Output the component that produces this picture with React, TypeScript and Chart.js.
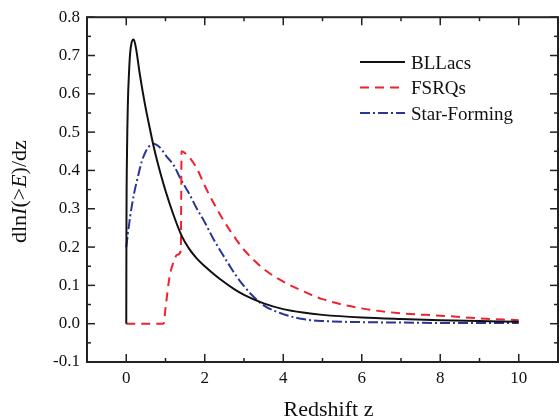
import { useEffect, useRef } from "react";
import { Chart, registerables } from "chart.js";

Chart.register(...registerables);

const FONT = "'Liberation Serif', 'Times New Roman', serif";

// Redshift grid and curves
const bllacsZ = [0, 0.005, 0.02, 0.04, 0.07, 0.1, 0.14, 0.19, 0.25, 0.34, 0.42, 0.5, 0.6, 0.7, 0.8, 0.9, 1.0, 1.2, 1.4, 1.6, 1.8, 2.0, 2.25, 2.5, 2.75, 3.0, 3.5, 4.0, 4.5, 5.0, 6.0, 7.0, 8.0, 9.0, 10.0];
const bllacsV = [0, 0.25, 0.45, 0.57, 0.655, 0.707, 0.735, 0.742, 0.718, 0.655, 0.605, 0.56, 0.51, 0.462, 0.42, 0.382, 0.347, 0.285, 0.232, 0.196, 0.17, 0.15, 0.128, 0.108, 0.09, 0.075, 0.053, 0.038, 0.029, 0.023, 0.016, 0.012, 0.009, 0.007, 0.005];

const fsrqZ = [0, 0.5, 0.95, 1.0, 1.1, 1.2, 1.3, 1.39, 1.41, 1.5, 1.6, 1.8, 2.0, 2.2, 2.4, 2.6, 2.8, 3.0, 3.5, 4.0, 4.5, 5.0, 6.0, 7.0, 8.0, 9.0, 10.0];
const fsrqV = [0, 0, 0, 0.04, 0.12, 0.16, 0.18, 0.19, 0.45, 0.445, 0.435, 0.405, 0.36, 0.32, 0.283, 0.25, 0.22, 0.193, 0.143, 0.11, 0.085, 0.064, 0.04, 0.027, 0.021, 0.014, 0.009];

const sfZ = [0, 0.1, 0.2, 0.3, 0.4, 0.5, 0.6, 0.7, 0.8, 0.9, 1.0, 1.2, 1.4, 1.6, 1.8, 2.0, 2.2, 2.4, 2.6, 2.8, 3.0, 3.2, 3.5, 4.0, 4.5, 5.0, 6.0, 7.0, 8.0, 9.0, 10.0];
const sfV = [0.2, 0.28, 0.34, 0.385, 0.425, 0.45, 0.465, 0.47, 0.465, 0.455, 0.44, 0.415, 0.375, 0.34, 0.3, 0.265, 0.225, 0.19, 0.157, 0.125, 0.098, 0.075, 0.048, 0.025, 0.012, 0.007, 0.004, 0.003, 0.002, 0.002, 0.002];

const seriesNames = ["BLLacs", "FSRQs", "Star-Forming"];
const seriesColors = ["#111111", "#ee2230", "#2b3595"];
const seriesDashes: number[][] = [[], [9, 6], [10, 3, 2, 3]];

const xTicks = [0, 2, 4, 6, 8, 10];
const xMinorTicks = [1, 3, 5, 7, 9];
const yTicks = [-0.1, 0.0, 0.1, 0.2, 0.3, 0.4, 0.5, 0.6, 0.7, 0.8];
const yMinorTicks = [-0.05, 0.05, 0.15, 0.25, 0.35, 0.45, 0.55, 0.65, 0.75];

const xTitle = "Redshift z";
const yTitleParts: [string, boolean][] = [["dln", false], ["I", true], ["(>", false], ["E", true], [")/dz", false]];

const toPoints = (zs: number[], vs: number[]) => zs.map((z, i) => ({ x: z, y: vs[i] }));

const framePlugin = {
  id: "framePlugin",
  afterDraw(chart: any) {
    const { ctx, chartArea, scales } = chart;
    const { left, right, top, bottom } = chartArea;
    const xs = scales.x;
    const ys = scales.y;
    ctx.save();
    ctx.strokeStyle = "#222";
    ctx.lineWidth = 1.5;
    const major = 8;
    const minor = 4;
    const tick = (x1: number, y1: number, x2: number, y2: number) => {
      ctx.beginPath();
      ctx.moveTo(x1, y1);
      ctx.lineTo(x2, y2);
      ctx.stroke();
    };
    xTicks.forEach((v) => {
      const p = xs.getPixelForValue(v);
      tick(p, bottom, p, bottom - major);
      tick(p, top, p, top + major);
    });
    xMinorTicks.forEach((v) => {
      const p = xs.getPixelForValue(v);
      tick(p, bottom, p, bottom - minor);
      tick(p, top, p, top + minor);
    });
    yTicks.forEach((v) => {
      const p = ys.getPixelForValue(v);
      tick(left, p, left + major, p);
      tick(right, p, right - major, p);
    });
    yMinorTicks.forEach((v) => {
      const p = ys.getPixelForValue(v);
      tick(left, p, left + minor, p);
      tick(right, p, right - minor, p);
    });
    ctx.lineWidth = 2;
    ctx.strokeRect(left, top, right - left, bottom - top);

    // legend
    const datasets = chart.data.datasets;
    const legendX = 360;
    const legendLineLen = 45;
    const legendY0 = 62;
    const legendStep = 25.5;
    datasets.forEach((ds: any, i: number) => {
      const y = legendY0 + i * legendStep;
      ctx.strokeStyle = ds.borderColor;
      ctx.lineWidth = ds.borderWidth;
      ctx.setLineDash(ds.borderDash || []);
      ctx.beginPath();
      ctx.moveTo(legendX, y);
      ctx.lineTo(legendX + legendLineLen, y);
      ctx.stroke();
      ctx.setLineDash([]);
      ctx.fillStyle = "#111";
      ctx.font = `19px ${FONT}`;
      ctx.textBaseline = "alphabetic";
      ctx.textAlign = "left";
      ctx.fillText(ds.label, legendX + legendLineLen + 6, y + 6.5);
    });

    // x title
    ctx.fillStyle = "#111";
    ctx.font = `22px ${FONT}`;
    ctx.textAlign = "center";
    ctx.textBaseline = "alphabetic";
    ctx.fillText(xTitle, (left + right) / 2 + 6, 416);

    // y title with italic parts
    ctx.save();
    ctx.translate(26, (top + bottom) / 2 + 2);
    ctx.rotate(-Math.PI / 2);
    ctx.textAlign = "left";
    const fontFor = (it: boolean) => `${it ? "italic " : ""}22px ${FONT}`;
    let total = 0;
    yTitleParts.forEach(([t, it]) => {
      ctx.font = fontFor(it);
      total += ctx.measureText(t).width;
    });
    let cx = -total / 2;
    yTitleParts.forEach(([t, it]) => {
      ctx.font = fontFor(it);
      ctx.fillText(t, cx, 0);
      cx += ctx.measureText(t).width;
    });
    ctx.restore();
    ctx.restore();
  },
};

export default function App() {
  const canvasRef = useRef<HTMLCanvasElement | null>(null);

  useEffect(() => {
    if (!canvasRef.current) return;
    const allZ = [bllacsZ, fsrqZ, sfZ];
    const allV = [bllacsV, fsrqV, sfV];
    const chart = new Chart(canvasRef.current, {
      type: "line",
      data: {
        datasets: seriesNames.map((name, i) => ({
          label: name,
          data: toPoints(allZ[i], allV[i]),
          borderColor: seriesColors[i],
          backgroundColor: seriesColors[i],
          borderWidth: 2,
          borderDash: seriesDashes[i],
          pointRadius: 0,
          fill: false,
          cubicInterpolationMode: "monotone",
        })),
      },
      options: {
        animation: false,
        responsive: false,
        maintainAspectRatio: false,
        layout: { padding: { top: 13, right: 2, left: 0, bottom: 0 } },
        plugins: { legend: { display: false }, tooltip: { enabled: false } },
        scales: {
          x: {
            type: "linear",
            min: -1,
            max: 11,
            afterBuildTicks: (s: any) => {
              s.ticks = xTicks.map((v) => ({ value: v }));
            },
            afterFit: (s: any) => {
              s.height = 58;
            },
            grid: { display: false, drawTicks: false },
            border: { display: false },
            ticks: {
              font: { family: FONT, size: 17 },
              color: "#111",
              padding: 6,
              maxRotation: 0,
              autoSkip: false,
              callback: (v: any) => String(v),
            },
          },
          y: {
            type: "linear",
            min: -0.1,
            max: 0.8,
            afterBuildTicks: (s: any) => {
              s.ticks = yTicks.map((v) => ({ value: v }));
            },
            afterFit: (s: any) => {
              s.width = 87;
            },
            grid: { display: false, drawTicks: false },
            border: { display: false },
            ticks: {
              font: { family: FONT, size: 17 },
              color: "#111",
              padding: 7,
              autoSkip: false,
              callback: (v: any) => Number(v).toFixed(1),
            },
          },
        },
      } as any,
      plugins: [framePlugin],
    });
    return () => chart.destroy();
  }, []);

  return (
    <div style={{ position: "absolute", left: 0, top: 0, width: 560, height: 420, background: "#fff" }}>
      <canvas ref={canvasRef} width={560} height={420} style={{ display: "block" }} />
    </div>
  );
}
